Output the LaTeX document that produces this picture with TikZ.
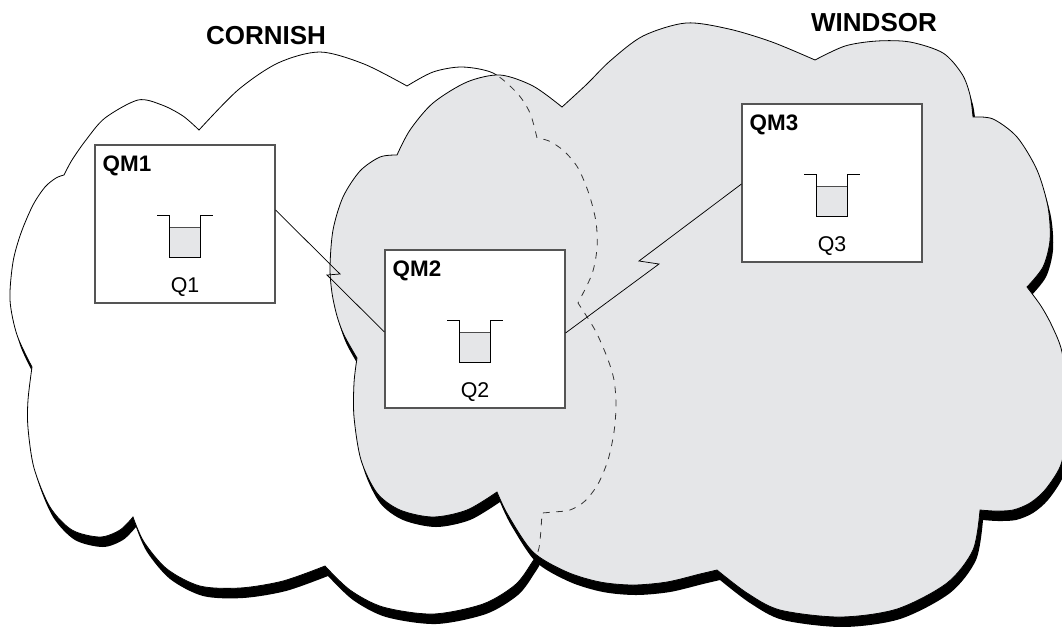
\documentclass[tikz,border=0pt]{standalone}
\usepackage{fontspec}
\setmainfont{Liberation Sans}
\usetikzlibrary{calc}
\definecolor{cloudgrey}{HTML}{E5E6E8}
\definecolor{boxline}{HTML}{555555}
\def\cornishpath{plot[smooth] coordinates {(32,367) (17,335) (10,300) (13,262) (21,233) (33,205) (45,187) (56,178) (64,175)}
 -- plot[smooth] coordinates {(64,175) (72,160) (86,140) (105,118) (138,100) (162,105) (183,116) (199,130)}
 -- plot[smooth] coordinates {(199,130) (238,90) (278,63) (320,52) (364,64) (407,86)}
 -- plot[smooth] coordinates {(407,86) (433,72) (462,67) (493,73) (517,93) (530,113) (537,138)}
 -- plot[smooth] coordinates {(537,138) (549,141) (564,151) (578,168) (589,194) (596,222) (597,248) (592,274) (578,303)}
 -- plot[smooth] coordinates {(578,303) (595,330) (607,357) (614,380) (616,405) (614,432) (608,460) (598,484) (585,501) (570,510) (553,512) (542,513)}
 -- plot[smooth] coordinates {(542,513) (539,548) (531,564) (515,585) (483,604) (433,614) (383,607) (350,590) (325,566)}
 -- plot[smooth] coordinates {(325,566) (283,581) (240,588) (200,586) (167,569) (144,542) (133,517)}
 -- plot[smooth] coordinates {(133,517) (120,530) (100,537) (72,530) (50,507) (34,468) (28,428) (28,400) (32,367)}
 -- cycle}
\def\windsorpath{plot[smooth] coordinates {(357,358) (344,335) (337,316) (332,293) (330,267) (333,230) (343,197) (360,171) (380,157) (397,155)}
 -- plot[smooth] coordinates {(397,155) (410,130) (433,103) (467,82) (500,75) (533,86) (562,107)}
 -- plot[smooth] coordinates {(562,107) (587,84) (610,61) (643,36) (686,23) (729,29) (772,42) (815,60)}
 -- plot[smooth] coordinates {(815,60) (845,46) (877,41) (910,42) (943,53) (962,74) (970,95) (973,117)}
 -- plot[smooth] coordinates {(973,117) (993,119) (1017,137) (1037,170) (1048,207) (1050,240) (1043,267) (1027,287)}
 -- plot[smooth] coordinates {(1027,287) (1041,306) (1052,326) (1062,352) (1068,400) (1066,440) (1060,467) (1045,490) (1030,503) (1013,510) (995,511) (980,510)}
 -- plot[smooth] coordinates {(980,510) (973,550) (947,583) (897,609) (840,617) (780,610) (747,593) (717,570)}
 -- plot[smooth] coordinates {(717,570) (700,574) (667,582) (633,585) (600,582) (567,572) (533,552) (508,515) (497,492)}
 -- plot[smooth] coordinates {(497,492) (467,510) (433,517) (400,510) (377,493) (361,460) (354,417) (354,383) (357,358)}
 -- cycle}
\tikzset{
  cloudline/.style={draw=black, line width=0.6pt, line join=miter},
  shadow/.style={fill=black, shift={(3,10)}},
  hidden/.style={draw=black!80, line width=0.6pt, dash pattern=on 5pt off 5pt},
  qmbox/.style={draw=boxline, fill=white, line width=0.8pt, minimum width=135pt, minimum height=118.5pt, inner sep=0pt},
  qmlabel/.style={inner sep=0pt, font=\fontsize{16.8}{18}\selectfont\bfseries},
  qlabel/.style={inner sep=0pt, font=\fontsize{16}{18}\selectfont},
  cloudlabel/.style={inner sep=0pt, font=\fontsize{19.5}{22}\selectfont\bfseries},
  link/.style={draw=black, line width=0.55pt, line join=miter},
  queue/.pic={
    \fill[cloudgrey] (-15.5,3) rectangle (15.5,33);
    \draw[black!70, line width=0.7pt] (-15.5,3) -- (15.5,3);
    \draw[black, line width=0.75pt] (-28,-9) -- (-15.5,-9) -- (-15.5,33) -- (15.5,33) -- (15.5,-9) -- (28,-9);
  }
}
\begin{document}
\begin{tikzpicture}[x=0.75pt,y=-0.75pt]
\useasboundingbox (0,0) rectangle (1062,626);
\clip (0,0) rectangle (1062,626);
% CORNISH cloud
\path[shadow] \cornishpath;
\path[cloudline, fill=white] \cornishpath;
% WINDSOR cloud
\path[shadow] \windsorpath;
\path[cloudline, fill=cloudgrey] \windsorpath;
% hidden outline of CORNISH inside WINDSOR
\begin{scope}
  \clip \windsorpath;
  \path[hidden] \cornishpath;
\end{scope}
% queue managers
\node[qmbox] (qm1) at (185,224) {};
\node[qmbox] (qm2) at (475,329) {};
\node[qmbox] (qm3) at (832,183) {};
\node[qmlabel, anchor=base west] (qm1t) at ($(qm1.north west)+(8,27)$) {QM1};
\node[qmlabel, anchor=base west] (qm2t) at ($(qm2.north west)+(8,27)$) {QM2};
\node[qmlabel, anchor=base west] (qm3t) at ($(qm3.north west)+(8,27)$) {QM3};
\pic at (qm1.center) {queue};
\pic at (qm2.center) {queue};
\pic at (qm3.center) {queue};
\node[qlabel, anchor=base] (q1) at ($(qm1.north)+(0,148)$) {Q1};
\node[qlabel, anchor=base] (q2) at ($(qm2.north)+(0,148)$) {Q2};
\node[qlabel, anchor=base] (q3) at ($(qm3.north)+(0,148)$) {Q3};
% channels
\coordinate (z1a) at (340,274);
\coordinate (z1b) at (327,275);
\coordinate (z2a) at (659,264);
\coordinate (z2b) at (639,261);
\draw[link] ($(qm1.east)+(0,-14)$) -- (z1a) -- (z1b) -- ($(qm2.west)+(0,3)$);
\draw[link] ($(qm2.east)+(0,4)$) -- (z2a) -- (z2b) -- ($(qm3.west)+(0,1)$);
% cluster names
\node[cloudlabel, anchor=base] (cornish) at (266,44) {CORNISH};
\node[cloudlabel, anchor=base] (windsor) at (874,31) {WINDSOR};
\end{tikzpicture}
\end{document}
